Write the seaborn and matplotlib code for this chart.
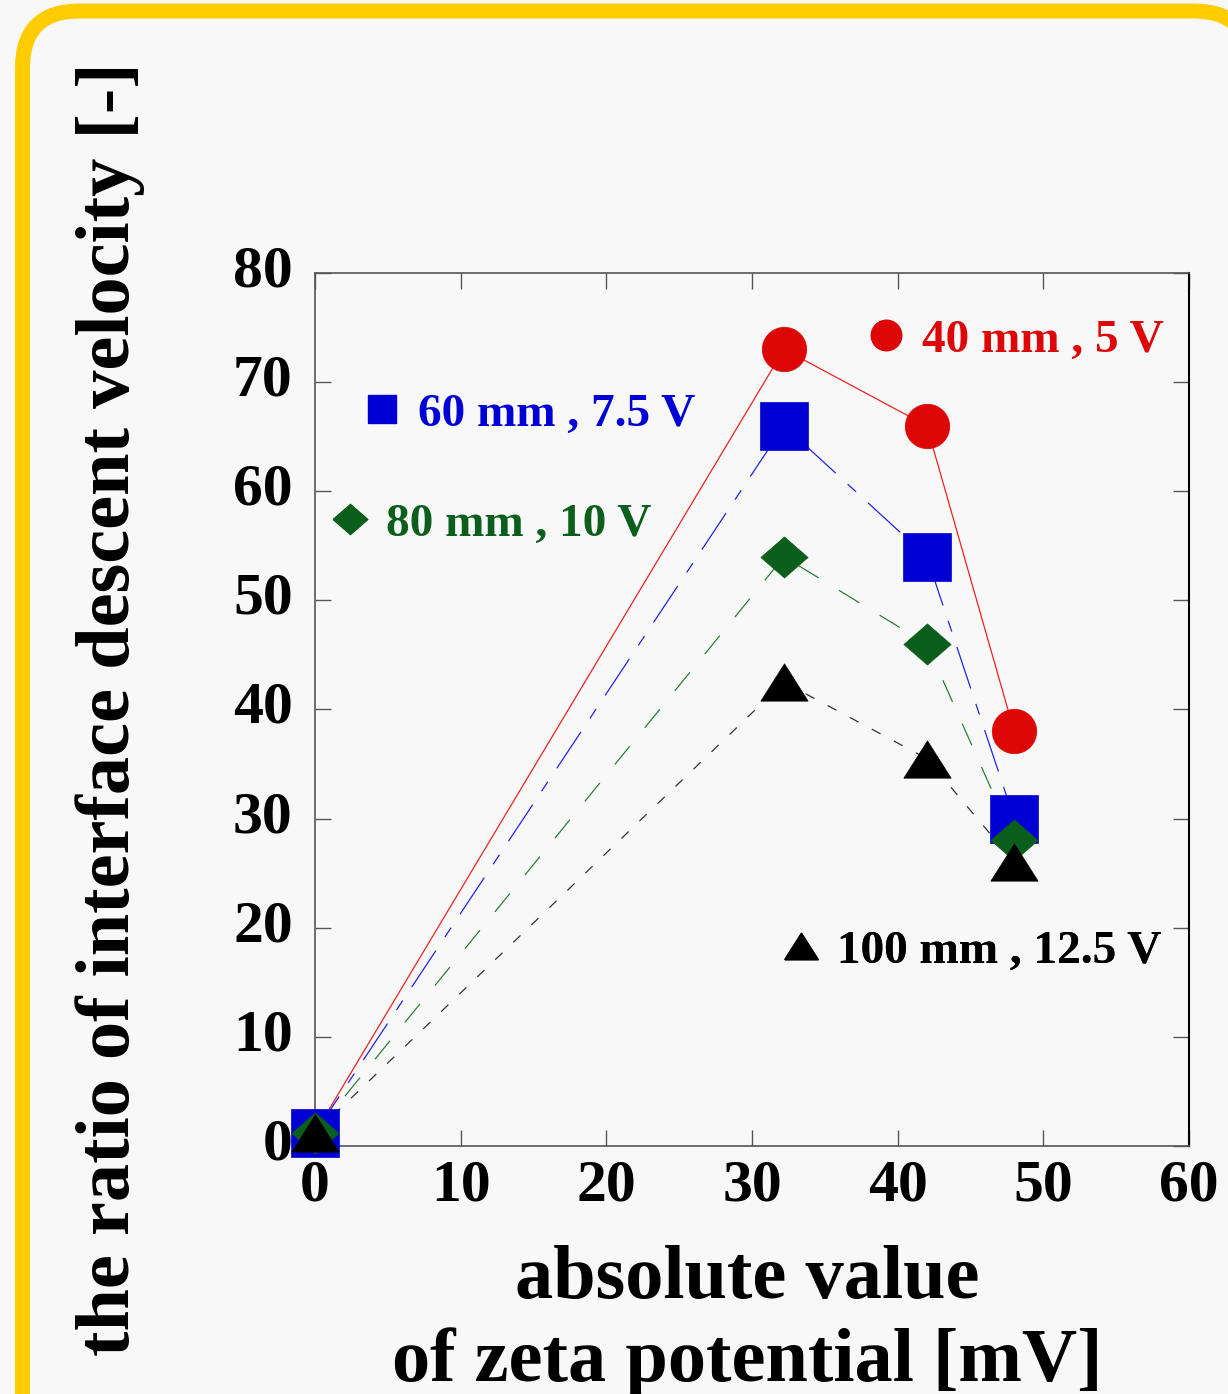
import numpy as np
import pandas as pd
import matplotlib
matplotlib.use("Agg")
import matplotlib.pyplot as plt
import seaborn as sns
from matplotlib.patches import FancyBboxPatch
from matplotlib.transforms import IdentityTransform, ScaledTranslation
from matplotlib.lines import Line2D

# data
zeta = [0, 32.2, 42, 48]
ratio_40mm = [1.2, 73, 66, 38]
ratio_60mm = [1.2, 66, 54, 30]
ratio_80mm = [1.2, 54, 46, 28]
ratio_100mm = [1.2, 42.5, 35.5, 26]

labels = ["40 mm , 5 V", "60 mm , 7.5 V", "80 mm , 10 V", "100 mm , 12.5 V"]
xticks = [0, 10, 20, 30, 40, 50, 60]
yticks = [0, 10, 20, 30, 40, 50, 60, 70, 80]

sns.set_theme(style="ticks")
plt.rcParams['font.family'] = ['Liberation Serif', 'DejaVu Serif']
plt.rcParams['font.weight'] = 'bold'
plt.rcParams['text.color'] = 'black'
plt.rcParams['axes.labelcolor'] = 'black'
plt.rcParams['xtick.color'] = 'black'
plt.rcParams['ytick.color'] = 'black'

bg = '#f8f8f8'
diamond = [(-1, 0), (0, 0.87), (1, 0), (0, -0.87), (-1, 0)]
triangle = [(-1, -0.79), (1, -0.79), (0, 0.79), (-1, -0.79)]

series = [
    # values, colour, marker, size, linestyle, legend marker size
    (ratio_40mm, '#dd0707', 'o', 32, '-', 22),
    (ratio_60mm, '#0000d4', 's', 34, (0, (35, 13, 9, 13)), 20),
    (ratio_80mm, '#0b5e1c', diamond, 34, (0, (19, 19)), 25),
    (ratio_100mm, '#000000', triangle, 34, (0, (8, 12)), 24),
]

fig = plt.figure(figsize=(12.28, 13.94), dpi=100, facecolor=bg)
ax = fig.add_axes([0.2565, 0.1779, 0.7117, 0.6263])
ax.set_facecolor(bg)

# yellow rounded frame (runs off the right and bottom edges);
# filled with the background so Agg does not clip the stroke onto the border
frame = FancyBboxPatch((22.5, -100), 1228, 1483,
                       boxstyle="round,pad=0,rounding_size=57",
                       transform=IdentityTransform(), facecolor=bg,
                       edgecolor='#ffcc00', linewidth=10.8, zorder=-1)
fig.add_artist(frame)

line_cols = ['#ee2222', '#2222ee', '#2e7d3a', '#333333']
for (vals, col, mk, ms, ls, _), lc in zip(series, line_cols):
    df = pd.DataFrame({'zeta': zeta, 'ratio': vals})
    sns.lineplot(data=df, x='zeta', y='ratio', ax=ax, color=lc,
                 linewidth=0.9, linestyle=ls, marker=None)
    ax.plot(df['zeta'], df['ratio'], linestyle='none', marker=mk,
            markersize=ms, color=col, markeredgecolor=col,
            markeredgewidth=0.5, clip_on=False, zorder=5)

ax.set_xlim(0, 60)
ax.set_ylim(0, 80)
ax.set_xticks(xticks)
ax.set_yticks(yticks)
ax.tick_params(axis='both', direction='in', length=11.5, width=1,
               color='#555555', labelcolor='black', top=True, right=True,
               labelsize=43)
ax.tick_params(axis='x', pad=10)
ax.tick_params(axis='y', pad=16)
for lab in ax.get_xticklabels() + ax.get_yticklabels():
    lab.set_fontweight('bold')
for lab in ax.get_yticklabels():
    lab.set_transform(lab.get_transform() + ScaledTranslation(0, 7 / 100, fig.dpi_scale_trans))
for side in ['left', 'bottom', 'top']:
    ax.spines[side].set_color('#555555')
    ax.spines[side].set_linewidth(1.2)
ax.spines['right'].set_color('#000000')
ax.spines['right'].set_linewidth(1.5)

ax.set_xlabel("absolute value\nof zeta potential [mV]", fontsize=55,
              fontweight='bold', linespacing=1.25)
ax.set_ylabel("the ratio of interface descent velocity [-]", fontsize=55,
              fontweight='bold')
ax.xaxis.set_label_coords(0.495, -0.113)
ax.yaxis.set_label_coords(-0.195, 0.5)

# one separate legend entry per series
anchors = [(0.6263, 0.9227), (0.0497, 0.838), (0.0130, 0.712), (0.529, 0.2228)]
for (vals, col, mk, ms, ls, lms), lab, anc in zip(series, labels, anchors):
    h = Line2D([], [], linestyle='none', marker=mk, markersize=lms,
               color=col, markeredgecolor=col)
    leg = ax.legend([h], [lab], loc='center left', bbox_to_anchor=anc,
                    frameon=False, borderpad=0, borderaxespad=0,
                    handlelength=1, handletextpad=0.26, labelcolor=col,
                    prop={'size': 34, 'weight': 'bold'})
    ax.add_artist(leg)

fig.savefig('out.png', dpi=100, facecolor=bg)
